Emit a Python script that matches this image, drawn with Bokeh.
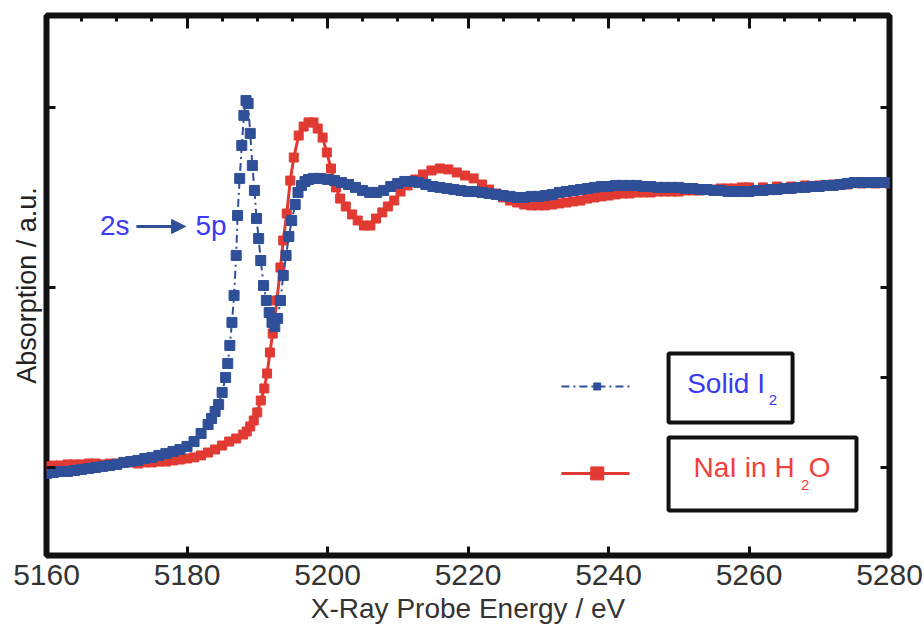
from bokeh.plotting import figure
from bokeh.models import (Range1d, LinearAxis, FixedTicker, Arrow, NormalHead,
                          BoxAnnotation, Label)
from bokeh.embed import file_html
from bokeh.resources import INLINE

# ---------------- data ----------------
energy_solid_i2 = [
    5160, 5161, 5162, 5163, 5164, 5165, 5166, 5167, 5168, 5169, 5170, 5171, 5172,
    5173, 5174, 5175, 5176, 5177, 5178, 5179, 5180, 5181, 5182, 5183, 5183.5, 5184,
    5184.5, 5185, 5185.5, 5185.8, 5186.1, 5186.4, 5186.7, 5187.0, 5187.2, 5187.5,
    5187.8, 5188.1, 5188.4, 5188.7, 5189.0, 5189.3, 5189.6, 5189.9, 5190.2, 5190.5,
    5190.9, 5191.3, 5191.7, 5192.1, 5192.5, 5192.9, 5193.3, 5193.7, 5194.1, 5194.5,
    5194.9, 5195.4, 5195.8, 5196.3, 5196.8, 5197.3, 5198, 5199, 5200, 5201, 5202,
    5203, 5204, 5205, 5206, 5207, 5208, 5209, 5210, 5211, 5212, 5213, 5214, 5215,
    5216, 5217, 5218, 5219, 5220, 5221, 5222, 5223, 5224, 5225, 5226, 5227, 5228,
    5229, 5230, 5231, 5232, 5233, 5234, 5235, 5236, 5237, 5238, 5239, 5240, 5241,
    5242, 5243, 5244, 5245, 5246, 5247, 5248, 5249, 5250, 5251, 5252, 5253, 5254,
    5255, 5256, 5257, 5258, 5259, 5260, 5261, 5262, 5263, 5264, 5265, 5266, 5267,
    5268, 5269, 5270, 5271, 5272, 5273, 5274, 5275, 5276, 5277, 5278, 5279, 5280]
absorb_solid_i2 = [
    -0.033, -0.028, -0.022, -0.022, -0.017, -0.011, -0.006, 0.000, 0.006, 0.011,
    0.017, 0.028, 0.033, 0.039, 0.050, 0.056, 0.067, 0.078, 0.089, 0.100, 0.117,
    0.144, 0.189, 0.239, 0.272, 0.311, 0.350, 0.417, 0.500, 0.578, 0.678, 0.806,
    0.956, 1.178, 1.400, 1.606, 1.789, 1.956, 2.039, 2.022, 1.856, 1.678, 1.539,
    1.383, 1.272, 1.150, 1.011, 0.928, 0.861, 0.806, 0.783, 0.828, 0.928, 1.067,
    1.178, 1.283, 1.372, 1.461, 1.528, 1.567, 1.589, 1.600, 1.606, 1.606, 1.600,
    1.594, 1.583, 1.572, 1.556, 1.539, 1.528, 1.528, 1.539, 1.561, 1.578, 1.589,
    1.589, 1.583, 1.572, 1.561, 1.556, 1.550, 1.544, 1.539, 1.533, 1.533, 1.528,
    1.522, 1.517, 1.511, 1.506, 1.500, 1.500, 1.506, 1.506, 1.511, 1.517, 1.528,
    1.533, 1.539, 1.544, 1.550, 1.556, 1.561, 1.561, 1.567, 1.567, 1.567, 1.567,
    1.561, 1.561, 1.556, 1.556, 1.556, 1.556, 1.550, 1.550, 1.544, 1.544, 1.539,
    1.539, 1.533, 1.533, 1.533, 1.533, 1.539, 1.539, 1.544, 1.544, 1.550, 1.550,
    1.556, 1.556, 1.561, 1.561, 1.567, 1.567, 1.572, 1.578, 1.583, 1.583, 1.583,
    1.583, 1.583, 1.583]

energy_nai_h2o = [
    5160, 5161, 5162, 5163, 5164, 5165, 5166, 5167, 5168, 5169, 5170, 5171, 5172,
    5173, 5174, 5175, 5176, 5177, 5178, 5179, 5180, 5181, 5182, 5183, 5184, 5185,
    5186, 5187, 5188, 5188.5, 5189, 5189.5, 5190.0, 5190.5, 5191.0, 5191.4, 5191.8,
    5192.2, 5192.8, 5193.3, 5193.7, 5194.2, 5194.7, 5195.2, 5195.9, 5196.6, 5197.3,
    5198.0, 5198.6, 5199.3, 5199.9, 5200.5, 5201.2, 5201.8, 5202.6, 5203.5, 5204.3,
    5205.2, 5206.1, 5206.9, 5207.8, 5208.6, 5209.5, 5210.4, 5211.4, 5212.5, 5213.6,
    5214.8, 5216.0, 5217.2, 5218.4, 5219.6, 5220.8, 5222, 5223, 5224, 5225, 5226,
    5227, 5228, 5229, 5230, 5231, 5232, 5233, 5234, 5235, 5236, 5237, 5238, 5239,
    5240, 5241, 5242, 5243, 5244, 5245, 5246, 5247, 5248, 5249, 5250, 5251, 5252,
    5253, 5254, 5255, 5256, 5257, 5258, 5259, 5260, 5262, 5264, 5266, 5268, 5270,
    5272, 5274, 5276, 5278, 5280]
absorb_nai_h2o = [
    0.006, 0.011, 0.011, 0.017, 0.017, 0.017, 0.022, 0.022, 0.017, 0.022, 0.022,
    0.028, 0.028, 0.022, 0.028, 0.028, 0.033, 0.033, 0.039, 0.044, 0.050, 0.056,
    0.067, 0.083, 0.100, 0.122, 0.144, 0.161, 0.183, 0.200, 0.228, 0.261, 0.306,
    0.372, 0.439, 0.522, 0.639, 0.744, 0.928, 1.111, 1.261, 1.411, 1.594, 1.722,
    1.844, 1.894, 1.917, 1.917, 1.883, 1.833, 1.750, 1.661, 1.556, 1.494, 1.450,
    1.406, 1.372, 1.344, 1.344, 1.383, 1.417, 1.450, 1.483, 1.533, 1.567, 1.600,
    1.628, 1.650, 1.661, 1.656, 1.639, 1.622, 1.606, 1.572, 1.544, 1.522, 1.500,
    1.483, 1.472, 1.461, 1.456, 1.456, 1.456, 1.461, 1.467, 1.472, 1.478, 1.483,
    1.494, 1.500, 1.506, 1.511, 1.517, 1.522, 1.522, 1.528, 1.528, 1.528, 1.533,
    1.533, 1.533, 1.533, 1.539, 1.539, 1.539, 1.544, 1.544, 1.550, 1.550, 1.550,
    1.556, 1.556, 1.556, 1.561, 1.561, 1.567, 1.567, 1.572, 1.572, 1.578, 1.578,
    1.578]

x_major_ticks = [5160, 5180, 5200, 5220, 5240, 5260, 5280]
x_minor_ticks = [5165, 5170, 5175, 5185, 5190, 5195, 5205, 5210, 5215, 5225, 5230,
                 5235, 5245, 5250, 5255, 5265, 5270, 5275]
y_left_ticks = [0, 1, 2]
y_right_ticks = [0, 0.5, 1, 2]

x_title = "X-Ray Probe Energy / eV"
y_title = "Absorption / a.u."

# ---------------- styles ----------------
BLUE = "#2f4f98"
RED = "#e03a33"
TEXT_BLUE = "#3a3af2"
TEXT_RED = "#f04040"
FRAME = "#111111"
FONT = "Liberation Sans"

p = figure(width=924, height=634, output_backend="svg", toolbar_location=None,
           x_range=Range1d(5160, 5280), y_range=Range1d(-0.489, 2.511),
           x_axis_location=None, y_axis_location=None,
           min_border_left=46, min_border_right=35, min_border_top=15,
           min_border_bottom=79, background_fill_color="white",
           border_fill_color="white")
p.grid.visible = False
p.outline_line_color = FRAME
p.outline_line_width = 6


def style_axis(ax, tick_in, labels=False):
    ax.axis_line_color = None
    ax.major_tick_in = tick_in
    ax.major_tick_out = 0
    ax.major_tick_line_color = FRAME
    ax.major_tick_line_width = 3
    ax.minor_tick_out = 0
    if not labels:
        # tick marks only: labels are not drawn at all
        ax.major_label_text_color = None
        ax.major_label_text_font_size = "1px"
        ax.major_label_standoff = 0


bottom = LinearAxis(ticker=FixedTicker(ticks=x_major_ticks, minor_ticks=[]))
style_axis(bottom, 9, labels=True)
bottom.minor_tick_line_color = None
bottom.major_label_text_font = FONT
bottom.major_label_text_font_size = "30px"
bottom.major_label_text_color = "#333333"
bottom.major_label_standoff = 9
bottom.axis_label = x_title
bottom.axis_label_text_font = FONT
bottom.axis_label_text_font_style = "normal"
bottom.axis_label_text_font_size = "28px"
bottom.axis_label_text_color = "#333333"
bottom.axis_label_standoff = 5
p.add_layout(bottom, "below")

top = LinearAxis(ticker=FixedTicker(ticks=x_major_ticks, minor_ticks=x_minor_ticks))
style_axis(top, 13)
top.minor_tick_in = 6
top.minor_tick_line_color = FRAME
top.minor_tick_line_width = 3
p.add_layout(top, "above")

left = LinearAxis(ticker=FixedTicker(ticks=y_left_ticks, minor_ticks=[]))
style_axis(left, 9)
left.minor_tick_line_color = None
left.axis_label = y_title
left.axis_label_text_font = FONT
left.axis_label_text_font_style = "normal"
left.axis_label_text_font_size = "27px"
left.axis_label_text_color = "#222222"
left.axis_label_standoff = 5
p.add_layout(left, "left")

right = LinearAxis(ticker=FixedTicker(ticks=y_right_ticks, minor_ticks=[]))
style_axis(right, 9)
right.minor_tick_line_color = None
p.add_layout(right, "right")

# ---------------- series ----------------
p.line(energy_nai_h2o, absorb_nai_h2o, line_color=RED, line_width=3)
p.scatter(energy_nai_h2o, absorb_nai_h2o, marker="square", size=9,
          fill_color=RED, line_color=RED)
p.line(energy_solid_i2, absorb_solid_i2, line_color=BLUE, line_width=2,
       line_dash="8 4 2 4")
p.scatter(energy_solid_i2, absorb_solid_i2, marker="square", size=10,
          fill_color=BLUE, line_color=BLUE)

# ---------------- annotation 2s -> 5p ----------------
p.add_layout(Label(x=5167.6, y=1.345, text="2s", text_font=FONT,
                   text_font_size="28px", text_color=TEXT_BLUE,
                   text_baseline="middle", text_align="left"))
p.add_layout(Arrow(end=NormalHead(size=14, fill_color=BLUE, line_color=BLUE),
                   x_start=5172.8, y_start=1.339, x_end=5179.8, y_end=1.339,
                   line_color=BLUE, line_width=3))
p.add_layout(Label(x=5181.2, y=1.345, text="5p", text_font=FONT,
                   text_font_size="28px", text_color=TEXT_BLUE,
                   text_baseline="middle", text_align="left"))

# ---------------- hand-made legend ----------------
leg_x0, leg_x1, leg_xm = 5233.3, 5243.0, 5238.4
leg_y_solid, leg_y_nai = 0.45, -0.033
p.line([leg_x0, leg_x1], [leg_y_solid, leg_y_solid], line_color=BLUE,
       line_width=2, line_dash="8 4 2 4")
p.scatter([leg_xm], [leg_y_solid], marker="square", size=7,
          fill_color=BLUE, line_color=BLUE)
p.line([leg_x0, leg_x1], [leg_y_nai, leg_y_nai], line_color=RED, line_width=3)
p.scatter([leg_xm], [leg_y_nai], marker="square", size=13,
          fill_color=RED, line_color=RED)

p.add_layout(BoxAnnotation(left=5248.55, right=5266.2, top=0.633, bottom=0.25,
                           fill_alpha=0, line_color=FRAME, line_width=4,
                           line_alpha=1))
p.add_layout(BoxAnnotation(left=5248.55, right=5275.3, top=0.167, bottom=-0.239,
                           fill_alpha=0, line_color=FRAME, line_width=4,
                           line_alpha=1))

p.add_layout(Label(x=5251.2, y=0.467, text="Solid I", text_font=FONT,
                   text_font_size="28px", text_color=TEXT_BLUE,
                   text_baseline="middle", text_align="left"))
p.add_layout(Label(x=5262.8, y=0.375, text="2", text_font=FONT,
                   text_font_size="15px", text_color=TEXT_BLUE,
                   text_baseline="middle", text_align="left"))
p.add_layout(Label(x=5252.1, y=0.0, text="NaI in H", text_font=FONT,
                   text_font_size="28px", text_color=TEXT_RED,
                   text_baseline="middle", text_align="left"))
p.add_layout(Label(x=5267.4, y=-0.097, text="2", text_font=FONT,
                   text_font_size="15px", text_color=TEXT_RED,
                   text_baseline="middle", text_align="left"))
p.add_layout(Label(x=5268.5, y=0.0, text="O", text_font=FONT,
                   text_font_size="28px", text_color=TEXT_RED,
                   text_baseline="middle", text_align="left"))

open("out.html", "w").write(file_html(p, INLINE))
